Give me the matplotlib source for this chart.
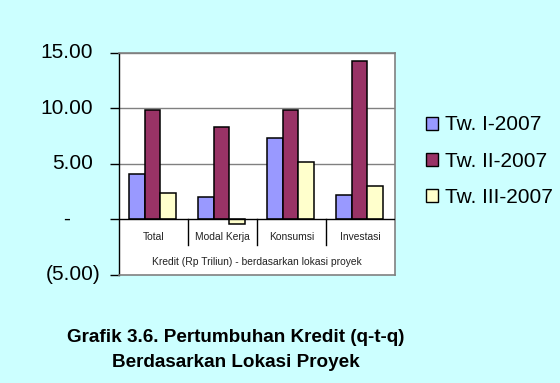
import matplotlib
matplotlib.use("Agg")
import matplotlib.pyplot as plt
from matplotlib.patches import Rectangle
from matplotlib.transforms import blended_transform_factory, ScaledTranslation

plt.rcParams['font.family'] = ['Liberation Sans', 'DejaVu Sans']

categories = ["Total", "Modal Kerja", "Konsumsi", "Investasi"]
series_names = ["Tw. I-2007", "Tw. II-2007", "Tw. III-2007"]
tw1 = [4.05, 2.03, 7.35, 2.20]
tw2 = [9.87, 8.28, 9.87, 14.25]
tw3 = [2.33, -0.47, 5.15, 2.95]
yticks = [-5, 0, 5, 10, 15]
ytick_labels = ["(5.00)", "-", "5.00", "10.00", "15.00"]
axis_title = "Kredit (Rp Triliun) - berdasarkan lokasi proyek"
title_lines = ["Grafik 3.6. Pertumbuhan Kredit (q-t-q)", "Berdasarkan Lokasi Proyek"]

colors = ["#9999FF", "#993366", "#FFFFCC"]
bg = "#CCFFFF"

W, H = 560, 383
fig = plt.figure(figsize=(W / 100, H / 100), dpi=100, facecolor=bg)
L, R, T, B = 119, 395, 52.7, 274.5
ax = fig.add_axes([L / W, 1 - B / H, (R - L) / W, (B - T) / H])
ax.set_facecolor("white")

bw = 0.225
x = list(range(len(categories)))
for k, (vals, c) in enumerate(zip([tw1, tw2, tw3], colors)):
    ax.bar([xi + (k - 1) * bw - 0.015 for xi in x], vals, width=bw, color=c,
           edgecolor="black", linewidth=1.1, label=series_names[k], zorder=3)

ax.set_xlim(-0.5, len(categories) - 0.5)
ax.set_ylim(-5, 15)

# gridlines
for g in [5, 10, 15]:
    ax.axhline(g, color="#808080", linewidth=1.0, zorder=1)
ax.axhline(0, color="black", linewidth=1.0, zorder=4)

# category separators
for s in range(1, len(categories)):
    ax.plot([s - 0.5, s - 0.5], [0, -2.35], color="black", linewidth=1.0, zorder=4)

for xi, cat in zip(x, categories):
    ax.text(xi, -1.6, cat, ha="center", va="center", fontsize=7.4, color="#222222")
ax.text(0.5, -3.85, axis_title, transform=blended_transform_factory(ax.transAxes, ax.transData),
        ha="center", va="center", fontsize=7.4, color="#222222")

ax.set_xticks([])
ax.set_yticks(yticks)
ax.set_yticklabels([])
ax.tick_params(axis="y", direction="out", length=6.5, width=1.0, color="black")

for side in ["top", "right", "bottom"]:
    ax.spines[side].set_color("#808080")
    ax.spines[side].set_linewidth(1.2)
ax.spines["left"].set_color("black")
ax.spines["left"].set_linewidth(1.0)

# y tick labels in accounting style
trans = blended_transform_factory(ax.transAxes, ax.transData)
for v, lab in zip(yticks, ytick_labels):
    if lab == "-":
        off = (66.7 - L) / 100
        ha = "center"
    elif lab.startswith("("):
        off = (100.7 - L) / 100
        ha = "right"
    else:
        off = (93.3 - L) / 100
        ha = "right"
    ax.text(0, v, lab, transform=trans + ScaledTranslation(off, 0, fig.dpi_scale_trans),
            ha=ha, va="center", fontsize=15, color="black")

# legend
handles = [Rectangle((0, 0), 1, 1, facecolor=c, edgecolor="black", linewidth=1.0) for c in colors]
fig.legend(handles, series_names, loc="upper left",
           bbox_to_anchor=(425.7 / W, 1 - 115.5 / H), frameon=False, fontsize=15,
           handlelength=0.58, handleheight=0.58, handletextpad=0.37,
           labelspacing=0.82, borderpad=0, borderaxespad=0)

fig.text(236 / W, 1 - 337 / H, title_lines[0], ha="center", va="center",
         fontsize=13.6, fontweight="bold")
fig.text(236 / W, 1 - 362.7 / H, title_lines[1], ha="center", va="center",
         fontsize=13.6, fontweight="bold")

fig.savefig("out.png", dpi=100, facecolor=bg)
